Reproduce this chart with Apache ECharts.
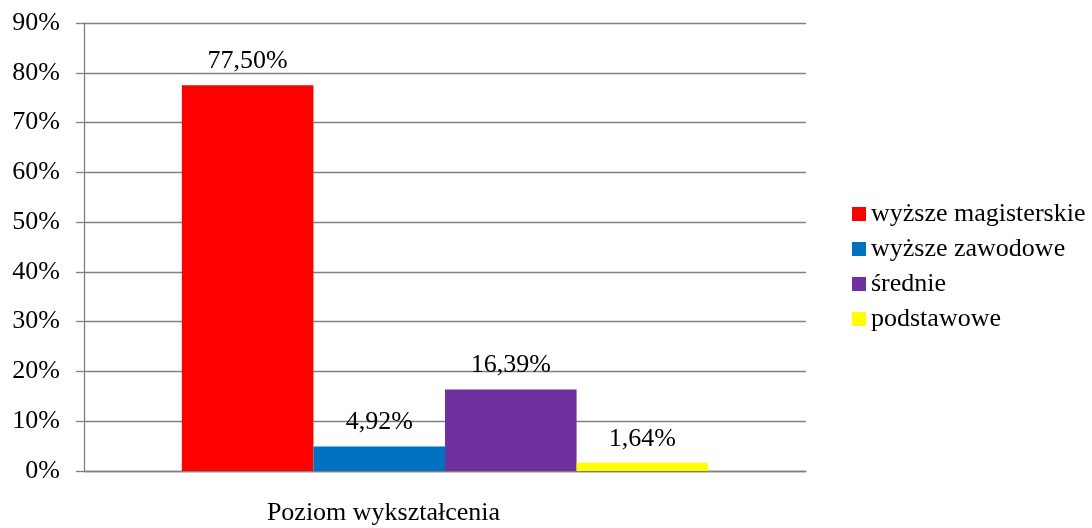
<!DOCTYPE html>
<html>
<head>
<meta charset="utf-8">
<script src="https://cdn.jsdelivr.net/npm/echarts@6/dist/echarts.min.js"></script>
<style>
  html, body { margin: 0; padding: 0; background: #fff; }
  #chart { width: 1092px; height: 528px; }
</style>
</head>
<body>
<div id="chart"></div>
<script>
// dane
const categories = ["Poziom wykształcenia"];
const seriesNames = ["wyższe magisterskie", "wyższe zawodowe", "średnie", "podstawowe"];
const seriesValues = [77.50, 4.92, 16.39, 1.64];
const seriesColors = ["#ff0000", "#0070c0", "#7030a0", "#ffff00"];

const font = "'Liberation Serif', 'Times New Roman', serif";
const chart = echarts.init(document.getElementById("chart"));

const series = seriesNames.map(function (name, i) {
  return {
    name: name,
    type: "bar",
    data: [seriesValues[i]],
    barGap: 0,
    barCategoryGap: "27.1%",
    itemStyle: { color: seriesColors[i] },
    label: {
      show: true,
      position: "top",
      distance: 11,
      fontFamily: font,
      fontSize: 26,
      color: "#000",
      formatter: function (p) {
        return p.value.toFixed(2).replace(".", ",") + "%";
      },
    },
  };
});

const options = {
  animation: false,
  textStyle: { fontFamily: font },
  grid: {
    left: 84,
    right: 286,
    top: 23,
    bottom: 57,
  },
  legend: {
    orient: "vertical",
    left: 847,
    top: 196,
    icon: "rect",
    itemWidth: 14,
    itemHeight: 14,
    itemGap: 9,
    textStyle: { fontFamily: font, fontSize: 26, color: "#000" },
    data: seriesNames,
  },
  xAxis: {
    type: "category",
    data: categories,
    axisLine: { lineStyle: { color: "#808080", width: 1.3 } },
    axisTick: { show: false },
    axisLabel: {
      margin: 29,
      padding: [0, 123, 0, 0],
      fontFamily: font,
      fontSize: 26,
      color: "#000",
    },
  },
  yAxis: {
    type: "value",
    min: 0,
    max: 90,
    interval: 10,
    axisLine: { show: true, lineStyle: { color: "#808080", width: 1.3 } },
    axisTick: { show: true, length: 8, lineStyle: { color: "#808080", width: 1.3 } },
    splitLine: { lineStyle: { color: "#808080", width: 1.3 } },
    axisLabel: {
      margin: 24,
      fontFamily: font,
      fontSize: 26,
      color: "#000",
      formatter: "{value}%",
    },
  },
  series: series,
};
chart.setOption(options);
</script>
</body>
</html>
